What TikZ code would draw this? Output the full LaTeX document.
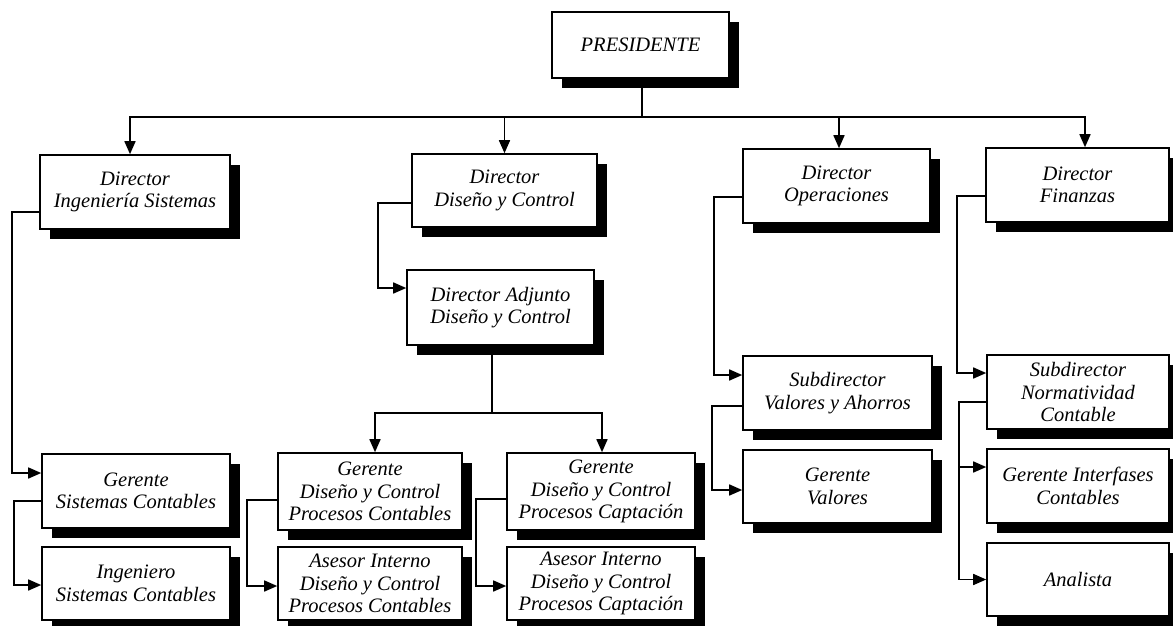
\documentclass[tikz,border=0pt]{standalone}
\usepackage{fontspec}
\setmainfont{Liberation Serif}
\usetikzlibrary{arrows.meta,shadows,calc}
\begin{document}
\begin{tikzpicture}[x=1pt,y=-1pt,
  box/.style={draw, line width=1.6pt, fill=white, align=center, inner sep=0pt,
    font=\fontsize{20.5}{22.5}\selectfont\itshape,
    general shadow={fill=black, shadow xshift=10pt, shadow yshift=-10pt},
    minimum width=187pt, minimum height=74pt},
  link/.style={line width=1.6pt},
  arr/.style={link, -{Triangle[length=13pt,width=11pt]}}]
\useasboundingbox (0,0) rectangle (1173,625);

% top level
\node[box, minimum width=177pt, minimum height=66pt] (pres) at (640.5,45) {PRESIDENTE};

% directors
\node[box, minimum width=190pt] (dis) at (135,192) {Director\\Ingeniería Sistemas};
\node[box, minimum width=185pt, minimum height=73pt] (ddc) at (504.5,190.5) {Director\\Diseño y Control};
\node[box] (dop) at (836.5,186) {Director\\Operaciones};
\node[box, minimum width=183pt] (dfi) at (1077.5,185) {Director\\Finanzas};

% second level
\node[box, minimum height=75pt] (adj) at (500.5,307.5) {Director Adjunto\\Diseño y Control};
\node[box, minimum width=189pt] (sva) at (837.5,393) {Subdirector\\Valores y Ahorros};
\node[box, minimum width=182pt] (snc) at (1078,392) {Subdirector\\Normatividad\\Contable};

% managers
\node[box, minimum width=188pt] (gsc) at (136,491) {Gerente\\Sistemas Contables};
\node[box, minimum width=188pt, minimum height=73pt] (isc) at (136,583.5) {Ingeniero\\Sistemas Contables};
\node[box, minimum width=184pt, minimum height=77pt] (gpc) at (370,491.5) {Gerente\\Diseño y Control\\Procesos Contables};
\node[box, minimum width=184pt, minimum height=73pt] (apc) at (370,583.5) {Asesor Interno\\Diseño y Control\\Procesos Contables};
\node[box, minimum width=188pt, minimum height=77pt] (gcap) at (601,491.5) {Gerente\\Diseño y Control\\Procesos Captación};
\node[box, minimum width=188pt, minimum height=73pt] (acap) at (601,583.5) {Asesor Interno\\Diseño y Control\\Procesos Captación};
\node[box, minimum width=189pt, minimum height=73pt] (gva) at (837.5,486.5) {Gerente\\Valores};
\node[box, minimum width=182pt] (gic) at (1078,486) {Gerente Interfases\\Contables};
\node[box, minimum width=182pt, minimum height=73pt] (ana) at (1078,579.5) {Analista};

% president to directors
\coordinate (bus) at (642,117);
\draw[link] (pres.south -| bus) -- (bus);
\draw[arr] (bus) -| ([xshift=-5pt]dis.north);
\draw[arr] (bus) -| (ddc.north);
\draw[arr] (bus) -| ([xshift=2.5pt]dop.north);
\draw[arr] (bus) -| ([xshift=7.5pt]dfi.north);

% Ingenieria Sistemas branch
\draw[arr] ($(dis.west)+(0,20)$) -| ($(gsc.west)+(-29,-18)$) -- ($(gsc.west)+(0,-18)$);
\draw[arr] ($(gsc.west)+(0,10)$) -| ($(isc.west)+(-27,1.5)$) -- ($(isc.west)+(0,1.5)$);

% Diseno y Control branch
\draw[arr] ($(ddc.west)+(0,12.5)$) -| ($(adj.west)+(-28,-19.5)$) -- ($(adj.west)+(0,-19.5)$);
\coordinate (bus2) at (492,413);
\draw[link] (adj.south -| bus2) -- (bus2);
\draw[arr] (bus2) -| ([xshift=5pt]gpc.north);
\draw[arr] (bus2) -| ([xshift=1pt]gcap.north);
\draw[arr] ($(gpc.west)+(0,8.5)$) -| ($(apc.west)+(-30,2.5)$) -- ($(apc.west)+(0,2.5)$);
\draw[arr] ($(gcap.west)+(0,7.5)$) -| ($(acap.west)+(-30,2.5)$) -- ($(acap.west)+(0,2.5)$);

% Operaciones branch
\draw[arr] ($(dop.west)+(0,11)$) -| ($(sva.west)+(-28,-18)$) -- ($(sva.west)+(0,-18)$);
\draw[arr] ($(sva.west)+(0,13)$) -| ($(gva.west)+(-30,3.5)$) -- ($(gva.west)+(0,3.5)$);

% Finanzas branch
\draw[arr] ($(dfi.west)+(0,11)$) -| ($(snc.west)+(-29,-19)$) -- ($(snc.west)+(0,-19)$);
\draw[arr] ($(snc.west)+(0,10)$) -| ($(ana.west)+(-27,0)$) -- (ana.west);
\draw[arr] ($(gic.west)+(-27,-19)$) -- ($(gic.west)+(0,-19)$);
\end{tikzpicture}
\end{document}
